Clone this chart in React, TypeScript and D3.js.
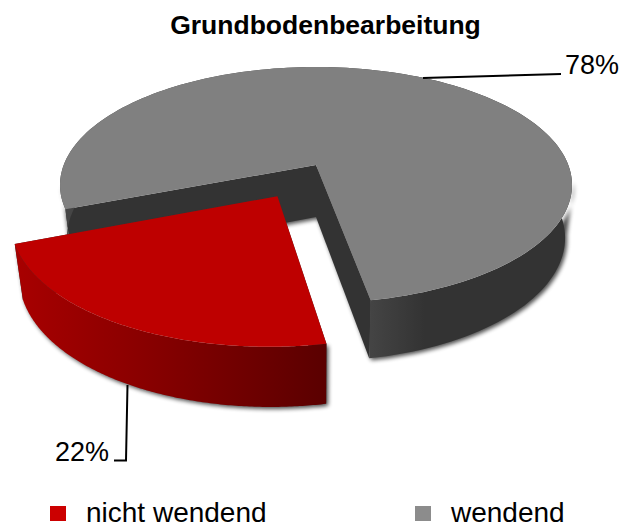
import React from "react";
import * as d3 from "d3";

const categories = ["nicht wendend", "wendend"];
const values = [22, 78];
const labels = ["22%", "78%"];
const topColors = ["#BE0000", "#808080"];
const legendColors = ["#CC0000", "#8C8C8C"];
const title = "Grundbodenbearbeitung";

const W = 621;
const H = 524;
const FONT = "'Liberation Sans', Arial, sans-serif";

// perspective projection of the pie's disc plane
const CX = 316;
const CY = 165;
const RX = 252.3;
const RY = 114.6;
const K = 0.1695;
const START = (169.6 * Math.PI) / 180;

type P = [number, number];
const project = (x: number, y: number): P => {
  const w = 1 - K * y;
  return [CX + (RX * x) / w, CY + (RY * y) / w];
};
const lower = ([x, y]: P): P => [CX + (x - CX) * 0.973, CY + (y - CY) * 1.045 + 52];

const pie = d3
  .pie<number>()
  .sort(null)
  .startAngle(START)
  .endAngle(START + 2 * Math.PI);
const arcs = pie(values);
const explode = [
  { ox: -0.146, oy: 0.26, r: 0.99 },
  { ox: 0, oy: 0, r: 1 },
];

const line = d3.line<P>();

function outerArc(i: number): P[] {
  const a = arcs[i];
  const e = explode[i];
  const n = 160;
  return d3.range(n + 1).map((k) => {
    const t = a.startAngle + ((a.endAngle - a.startAngle) * k) / n;
    return project(e.ox + e.r * Math.sin(t), e.oy - e.r * Math.cos(t));
  });
}

function Slice({ i, sideFill }: { i: number; sideFill: string }) {
  const e = explode[i];
  const apex = project(e.ox, e.oy);
  const rim = outerArc(i);
  const bottomRim = rim.map(lower);
  const first = rim[0];
  const last = rim[rim.length - 1];
  const side = line([...rim, ...[...bottomRim].reverse()]) + "Z";
  const wall1 = line([apex, first, lower(first), lower(apex)]) + "Z";
  const wall2 = line([apex, last, lower(last), lower(apex)]) + "Z";
  const top = line([apex, ...rim]) + "Z";

  // shadow only below the visible front of the body, split where the rim passes behind the pie
  const isFront = (p: P) => p[1] > CY + 15;
  const frontRuns: P[][] = [];
  let run: P[] = [];
  rim.forEach((p, k) => {
    if (isFront(p)) run.push(p);
    else if (run.length) {
      frontRuns.push(run);
      run = [];
    }
    if (k === rim.length - 1 && run.length) frontRuns.push(run);
  });
  const shadowPaths = frontRuns.map((r) => line([...r, ...[...r].reverse().map(lower)]) + "Z");

  return (
    <g>
      <g filter="url(#shadow)">
        {shadowPaths.map((d, k) => (
          <path key={k} d={d} fill="#000" />
        ))}
        {i === 1 && <path d={wall1} fill="#000" />}
        {i === 1 && <path d={wall2} fill="#000" />}
      </g>
      <path d={wall1} fill="#333333" />
      <path d={wall2} fill="#333333" />
      <path d={side} fill={sideFill} />
      <path d={top} fill={topColors[i]} />
    </g>
  );
}

export default function App() {
  return (
    <svg
      width={W}
      height={H}
      viewBox={`0 0 ${W} ${H}`}
      style={{ position: "absolute", left: 0, top: 0, display: "block", background: "#fff" }}
    >
      <defs>
        <filter id="shadow" x="-10%" y="-15%" width="120%" height="130%">
          <feOffset dx="1.5" dy="2" />
          <feGaussianBlur stdDeviation="2.2" />
          <feComponentTransfer>
            <feFuncA type="linear" slope="0.7" />
          </feComponentTransfer>
        </filter>
        <linearGradient id="redSide" gradientUnits="userSpaceOnUse" x1="14" y1="0" x2="327" y2="0">
          <stop offset="0" stopColor="#A80000" />
          <stop offset="0.4" stopColor="#8A0000" />
          <stop offset="1" stopColor="#5A0000" />
        </linearGradient>
        <linearGradient id="graySide" gradientUnits="userSpaceOnUse" x1="368" y1="0" x2="425" y2="0">
          <stop offset="0" stopColor="#454545" />
          <stop offset="1" stopColor="#333333" />
        </linearGradient>
      </defs>

      <text x={325.5} y={34} textAnchor="middle" fontFamily={FONT} fontWeight="bold" fontSize={26.5} fill="#000">
        {title}
      </text>

      <Slice i={1} sideFill="url(#graySide)" />
      <Slice i={0} sideFill="url(#redSide)" />

      <path d="M423,78L561,74" stroke="#000" strokeWidth={2} fill="none" />
      <path d="M127.5,385L126,460.5L114,460.5" stroke="#000" strokeWidth={2} fill="none" />
      <text x={565} y={74} fontFamily={FONT} fontSize={27} fill="#000">{labels[1]}</text>
      <text x={55} y={461} fontFamily={FONT} fontSize={27} fill="#000">{labels[0]}</text>

      {categories.map((c, i) => {
        const sx = [50, 415][i];
        const tx = [86, 451][i];
        return (
          <g key={c}>
            <rect x={sx} y={506} width={16} height={15} fill={legendColors[i]} />
            <text x={tx} y={522} fontFamily={FONT} fontSize={28} fill="#000">{c}</text>
          </g>
        );
      })}
    </svg>
  );
}
